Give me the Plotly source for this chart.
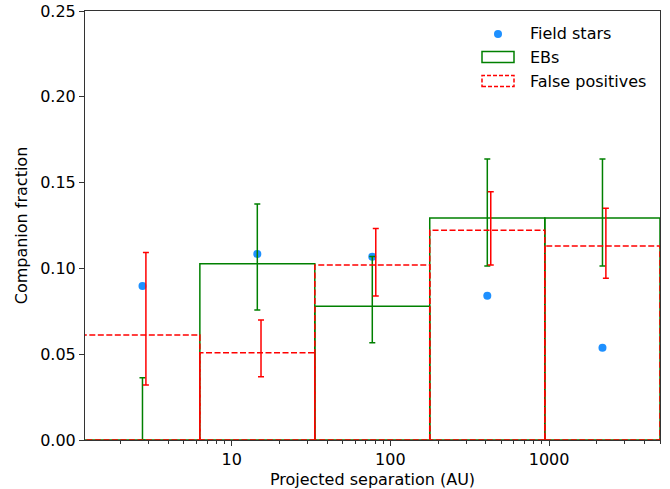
import math
import plotly.graph_objects as go

# ---- data ----
bin_edges = [1.17, 6.30, 33.4, 177.0, 940.0, 5000.0]          # AU
x_limits = [1.19, 5000.0]
field_x = [2.74, 14.5, 76.9, 408.0, 2170.0]
field_frac = [0.0897, 0.1084, 0.1068, 0.0841, 0.0538]

eb_x = [2.74, 14.5, 76.9, 408.0, 2170.0]
eb_frac = [0.0, 0.1027, 0.0779, 0.1294, 0.1294]
eb_lo = [0.0, 0.0758, 0.0567, 0.1014, 0.1014]
eb_hi = [0.0363, 0.1375, 0.1070, 0.1637, 0.1637]

fp_x = [2.88, 15.3, 80.9, 429.0, 2280.0]
fp_frac = [0.0612, 0.0509, 0.1020, 0.1222, 0.1131]
fp_lo = [0.0321, 0.0369, 0.0839, 0.1020, 0.0942]
fp_hi = [0.1092, 0.0699, 0.1232, 0.1447, 0.1350]

x_major = [10, 100, 1000]
x_major_text = ["10", "100", "1000"]
x_minor = [2, 3, 4, 5, 6, 7, 8, 9, 20, 30, 40, 50, 60, 70, 80, 90,
           200, 300, 400, 500, 600, 700, 800, 900, 2000, 3000, 4000, 5000]
y_ticks = [0.0, 0.05, 0.10, 0.15, 0.20, 0.25]

legend_names = ["Field stars", "EBs", "False positives"]

BLUE = "#1E90FF"
GREEN = "#008000"
RED = "#FF0000"
FONT = "DejaVu Sans"
FS = 16

W, H = 670, 489
ML, MR, MT, MB = 85, 10, 11, 49
PW, PH = W - ML - MR, H - MT - MB


def outline(edges, heights):
    xs, ys = [], []
    for i, h in enumerate(heights):
        lo, hi = edges[i], edges[i + 1]
        xs += [lo, lo, hi, hi, lo, None]
        ys += [0, h, h, 0, 0, None]
    return xs, ys


fig = go.Figure()

fig.add_trace(go.Scatter(x=field_x, y=field_frac, mode="markers",
                         marker=dict(color=BLUE, size=8), showlegend=False,
                         name=legend_names[0]))

ex, ey = outline(bin_edges, eb_frac)
fig.add_trace(go.Scatter(x=ex, y=ey, mode="lines",
                         line=dict(color=GREEN, width=1.5), showlegend=False,
                         name=legend_names[1]))
fig.add_trace(go.Scatter(
    x=eb_x, y=eb_frac, mode="markers",
    marker=dict(size=1, color="rgba(0,0,0,0)"), showlegend=False,
    error_y=dict(type="data", symmetric=False,
                 array=[h - v for h, v in zip(eb_hi, eb_frac)],
                 arrayminus=[v - l for v, l in zip(eb_frac, eb_lo)],
                 color=GREEN, thickness=1.5, width=3)))

fx, fy = outline(bin_edges, fp_frac)
fig.add_trace(go.Scatter(x=fx, y=fy, mode="lines",
                         line=dict(color=RED, width=1.5, dash="6px,2.5px"),
                         showlegend=False, name=legend_names[2]))
fig.add_trace(go.Scatter(
    x=fp_x, y=fp_frac, mode="markers",
    marker=dict(size=1, color="rgba(0,0,0,0)"), showlegend=False,
    error_y=dict(type="data", symmetric=False,
                 array=[h - v for h, v in zip(fp_hi, fp_frac)],
                 arrayminus=[v - l for v, l in zip(fp_frac, fp_lo)],
                 color=RED, thickness=1.5, width=3)))


# ---- custom legend (matplotlib-style patch icons) ----
def px2paper(px, py):
    return (px - ML) / PW, (H - MB - py) / PH


shapes = []
annotations = []
icon_cx = 498
text_x = 528
rows_y = [33, 57, 81]
cx, cy = px2paper(icon_cx, rows_y[0] + 1)
shapes.append(dict(type="circle", xref="paper", yref="paper",
                   xsizemode="pixel", ysizemode="pixel",
                   xanchor=cx, yanchor=cy, x0=-4, x1=4, y0=-4, y1=4,
                   fillcolor=BLUE, line=dict(width=0)))
for py, col, dash in [(rows_y[1], GREEN, "solid"), (rows_y[2], RED, "4px,2px")]:
    cx, cy = px2paper(icon_cx, py)
    shapes.append(dict(type="rect", xref="paper", yref="paper",
                       xsizemode="pixel", ysizemode="pixel",
                       xanchor=cx, yanchor=cy, x0=-16, x1=16, y0=-5.5, y1=5.5,
                       fillcolor="rgba(0,0,0,0)",
                       line=dict(color=col, width=1.5, dash=dash)))
for name, py in zip(legend_names, rows_y):
    ax, ay = px2paper(text_x, py)
    annotations.append(dict(text=name, xref="paper", yref="paper", x=ax, y=ay,
                            xanchor="left", yanchor="middle", showarrow=False,
                            font=dict(family=FONT, size=FS, color="black")))

axis_common = dict(showline=True, linecolor="#333", linewidth=1, mirror=True,
                   showgrid=False, zeroline=False, ticks="outside", ticklen=5,
                   tickwidth=1, tickcolor="#333", automargin=False,
                   tickfont=dict(family=FONT, size=FS, color="black"))

fig.update_layout(
    width=W, height=H,
    margin=dict(l=ML, r=MR, t=MT, b=MB, pad=0),
    paper_bgcolor="white", plot_bgcolor="white",
    font=dict(family=FONT, size=FS, color="black"),
    showlegend=False,
    shapes=shapes, annotations=annotations,
    xaxis=dict(type="log",
               range=[math.log10(x_limits[0]), math.log10(x_limits[1])],
               tickmode="array", tickvals=x_major, ticktext=x_major_text,
               minor=dict(tickmode="array", tickvals=x_minor, ticks="outside",
                          ticklen=3, tickwidth=0.8, tickcolor="#333"),
               title=dict(text="Projected separation (AU)", standoff=6,
                          font=dict(family=FONT, size=FS, color="black")),
               **axis_common),
    yaxis=dict(range=[0, 0.25], tickmode="array", tickvals=y_ticks,
               tickformat=".2f",
               title=dict(text="Companion fraction", standoff=8,
                          font=dict(family=FONT, size=FS, color="black")),
               **axis_common),
)

fig.write_html("out.html")
